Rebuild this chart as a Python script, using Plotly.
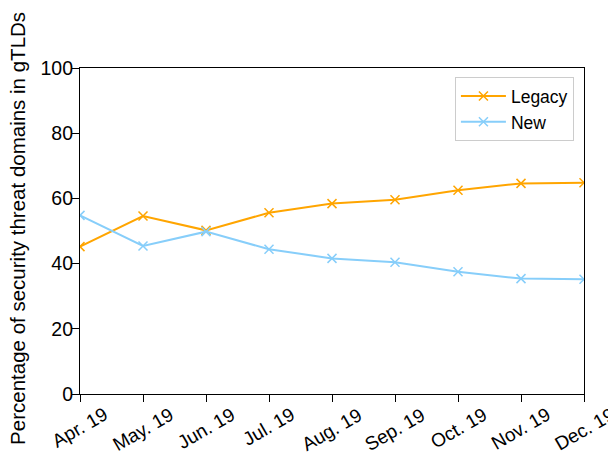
import plotly.graph_objects as go

months = ["Apr. 19", "May. 19", "Jun. 19", "Jul. 19", "Aug. 19", "Sep. 19", "Oct. 19", "Nov. 19", "Dec. 19"]
legacy = [45.2, 54.6, 50.2, 55.6, 58.4, 59.6, 62.5, 64.6, 64.8]
new = [54.8, 45.4, 49.8, 44.4, 41.6, 40.4, 37.5, 35.4, 35.2]
y_ticks = [0, 20, 40, 60, 80, 100]

font_family = "Arial, Liberation Sans, sans-serif"

fig = go.Figure()
fig.add_trace(go.Scatter(x=months, y=legacy, name="Legacy", mode="lines+markers",
                         line=dict(color="#FFA500", width=2),
                         marker=dict(symbol="x-thin", size=9, line=dict(color="#FFA500", width=1.5))))
fig.add_trace(go.Scatter(x=months, y=new, name="New", mode="lines+markers",
                         line=dict(color="#87CEFA", width=2),
                         marker=dict(symbol="x-thin", size=9, line=dict(color="#87CEFA", width=1.5))))

fig.update_layout(
    width=608, height=447,
    margin=dict(l=72, r=32, t=60, b=61, autoexpand=False),
    plot_bgcolor="white", paper_bgcolor="white",
    font=dict(family=font_family, size=20, color="black"),
    legend=dict(x=0.98, y=0.972, xanchor="right", yanchor="top",
                bordercolor="#cccccc", borderwidth=1, bgcolor="white",
                font=dict(size=17.5), itemwidth=45),
    showlegend=True,
)
fig.update_xaxes(range=[0, 8], ticks="outside", ticklen=7, tickcolor="black",
                 showline=True, linecolor="black", linewidth=1.2, mirror=True, automargin=False,
                 showgrid=False, zeroline=False, showticklabels=False)
fig.update_yaxes(range=[0, 100], tickvals=y_ticks, ticks="outside", ticklen=7, tickcolor="black",
                 showline=True, linecolor="black", linewidth=1.2, mirror=True, automargin=False,
                 showgrid=False, zeroline=False, tickfont=dict(size=19.5),
                 ticklabelstandoff=-5)

# rotated x tick labels, centred under each tick (matplotlib-style)
for m in months:
    fig.add_annotation(text=m, x=m, xref="x", y=-0.026, yref="paper", textangle=-30,
                       xanchor="center", yanchor="top", showarrow=False,
                       font=dict(size=19), borderpad=0)

fig.add_annotation(text="Percentage of security threat domains in gTLDs", textangle=-90,
                   xref="paper", yref="paper", x=-0.124, y=0.508, xanchor="center", yanchor="middle",
                   showarrow=False, font=dict(size=20.5))

fig.write_html("out.html")
